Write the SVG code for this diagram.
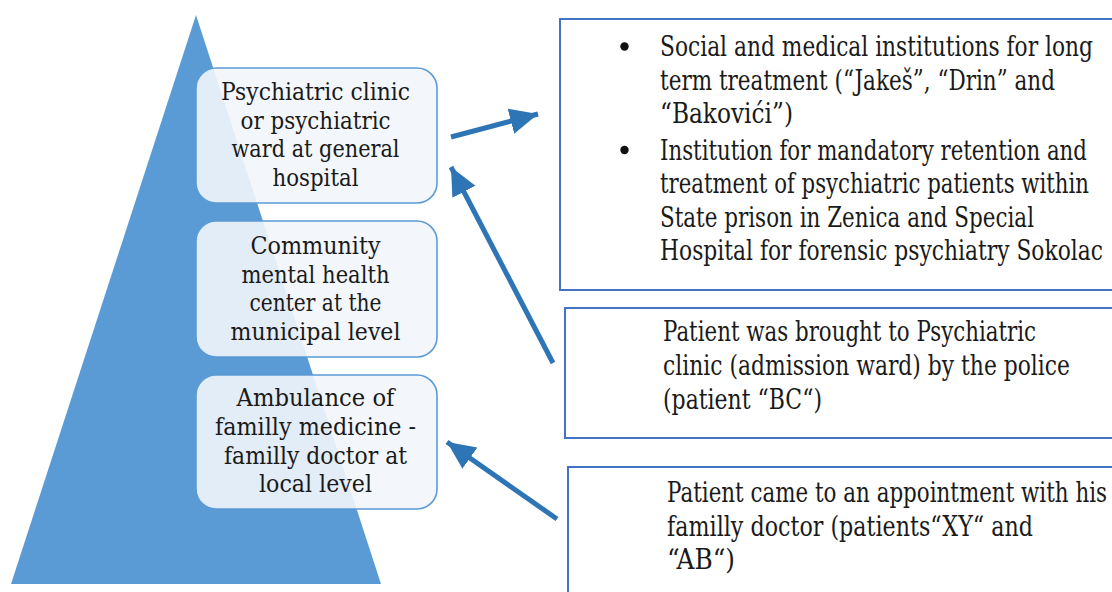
<svg xmlns="http://www.w3.org/2000/svg" width="1112" height="592" viewBox="0 0 1112 592">
  <style>
    .tier { fill: #F2F6FC; fill-opacity: 0.9; stroke: #5B9BD5; stroke-width: 1.6; }
    .tier-text { font-family: 'DejaVu Serif', serif; font-size: 25px; fill: #1a1a1a; text-anchor: middle; }
    .note { fill: #ffffff; stroke: #4472C4; stroke-width: 2; }
    .note-text { font-family: 'DejaVu Serif', serif; font-size: 27px; fill: #1a1a1a; }
    .link { stroke: #2E75B6; stroke-width: 5; fill: none; marker-end: url(#head); }
  </style>
  <defs>
    <marker id="head" markerUnits="userSpaceOnUse" markerWidth="30" markerHeight="28" refX="28" refY="13" orient="auto">
      <path d="M0,0 L28,13 L0,26 Z" fill="#2E75B6"/>
    </marker>
  </defs>

  <rect width="1112" height="592" fill="#ffffff"/>

  <!-- pyramid background -->
  <g id="pyramid">
    <polygon points="196,15 11,584 381,584" fill="#5B9BD5"/>
  </g>

  <!-- pyramid tiers -->
  <g id="tier-clinic">
    <rect class="tier" x="196" y="68" width="241" height="135" rx="20"/>
    <text class="tier-text" x="315.5" y="100" textLength="189" lengthAdjust="spacingAndGlyphs">Psychiatric clinic</text>
    <text class="tier-text" x="315.5" y="128.5" textLength="150" lengthAdjust="spacingAndGlyphs">or psychiatric</text>
    <text class="tier-text" x="315.5" y="157" textLength="168" lengthAdjust="spacingAndGlyphs">ward at general</text>
    <text class="tier-text" x="315.5" y="185.5" textLength="86" lengthAdjust="spacingAndGlyphs">hospital</text>
  </g>
  <g id="tier-community">
    <rect class="tier" x="196" y="221" width="241" height="136" rx="20"/>
    <text class="tier-text" x="315.5" y="254" textLength="130" lengthAdjust="spacingAndGlyphs">Community</text>
    <text class="tier-text" x="315.5" y="282.5" textLength="148" lengthAdjust="spacingAndGlyphs">mental health</text>
    <text class="tier-text" x="315.5" y="311" textLength="132" lengthAdjust="spacingAndGlyphs">center at the</text>
    <text class="tier-text" x="315.5" y="339.5" textLength="170" lengthAdjust="spacingAndGlyphs">municipal level</text>
  </g>
  <g id="tier-family">
    <rect class="tier" x="196" y="375" width="241" height="134" rx="20"/>
    <text class="tier-text" x="315.5" y="406" textLength="158" lengthAdjust="spacingAndGlyphs">Ambulance of</text>
    <text class="tier-text" x="315.5" y="435" textLength="201" lengthAdjust="spacingAndGlyphs">familly medicine -</text>
    <text class="tier-text" x="315.5" y="463.5" textLength="183" lengthAdjust="spacingAndGlyphs">familly doctor at</text>
    <text class="tier-text" x="315.5" y="492" textLength="113" lengthAdjust="spacingAndGlyphs">local level</text>
  </g>

  <!-- institutions box -->
  <g id="note-institutions">
    <rect class="note" x="560" y="19" width="570" height="271"/>
    <circle cx="624.5" cy="46.5" r="4.2" fill="#111"/>
    <circle cx="624.5" cy="150" r="4.2" fill="#111"/>
    <text class="note-text" x="660" y="56" textLength="433" lengthAdjust="spacingAndGlyphs">Social and medical institutions for long</text>
    <text class="note-text" x="660" y="89.5" textLength="395" lengthAdjust="spacingAndGlyphs">term treatment (“Jakeš”, “Drin” and</text>
    <text class="note-text" x="660" y="123" textLength="133" lengthAdjust="spacingAndGlyphs">“Bakovići”)</text>
    <text class="note-text" x="660" y="159.5" textLength="427" lengthAdjust="spacingAndGlyphs">Institution for mandatory retention and</text>
    <text class="note-text" x="660" y="193" textLength="429" lengthAdjust="spacingAndGlyphs">treatment of psychiatric patients within</text>
    <text class="note-text" x="660" y="226.5" textLength="374" lengthAdjust="spacingAndGlyphs">State prison in Zenica and Special</text>
    <text class="note-text" x="660" y="260" textLength="443" lengthAdjust="spacingAndGlyphs">Hospital for forensic psychiatry Sokolac</text>
  </g>

  <!-- police admission box -->
  <g id="note-police">
    <rect class="note" x="565" y="308" width="570" height="130"/>
    <text class="note-text" x="663" y="341" textLength="373" lengthAdjust="spacingAndGlyphs">Patient was brought to Psychiatric</text>
    <text class="note-text" x="663" y="375" textLength="407" lengthAdjust="spacingAndGlyphs">clinic (admission ward) by the police</text>
    <text class="note-text" x="663" y="409" textLength="159" lengthAdjust="spacingAndGlyphs">(patient “BC“)</text>
  </g>

  <!-- family doctor box -->
  <g id="note-family">
    <rect class="note" x="568" y="467" width="570" height="150"/>
    <text class="note-text" x="667" y="502" textLength="440" lengthAdjust="spacingAndGlyphs">Patient came to an appointment with his</text>
    <text class="note-text" x="667" y="535.5" textLength="366" lengthAdjust="spacingAndGlyphs">familly doctor (patients“XY“ and</text>
    <text class="note-text" x="667" y="569" textLength="68" lengthAdjust="spacingAndGlyphs">“AB“)</text>
  </g>

  <!-- connectors -->
  <g id="connectors">
    <line class="link" x1="451" y1="137" x2="538" y2="114"/>
    <line class="link" x1="553" y1="363" x2="451" y2="167"/>
    <line class="link" x1="557" y1="519" x2="447" y2="442"/>
  </g>
</svg>
